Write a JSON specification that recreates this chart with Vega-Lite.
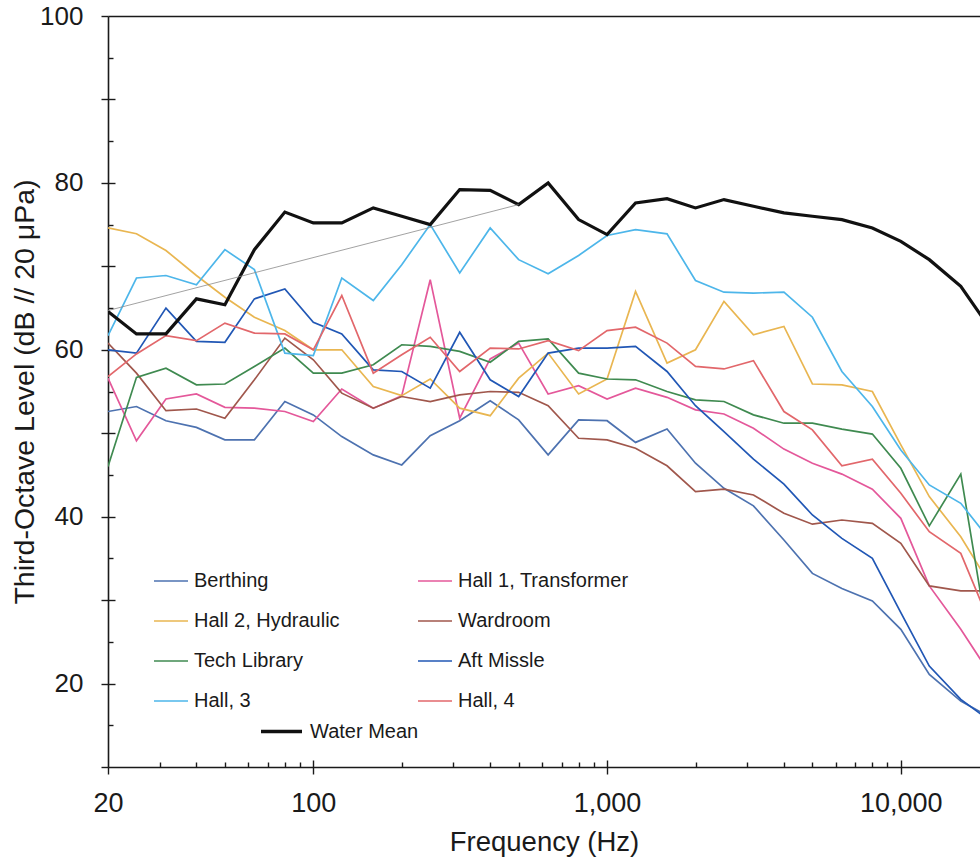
{
"$schema":"https://vega.github.io/schema/vega-lite/v6.json",
"width":872,"height":751,
"autosize":{"type":"none"},
"padding":{"left":108,"top":16,"right":0,"bottom":93},
"config":{"view":{"stroke":null},"font":"Liberation Sans","axis":{"grid":false,"domainColor":"#1a1a1a","tickColor":"#1a1a1a","labelColor":"#1a1a1a","titleColor":"#1a1a1a","titleFontWeight":"normal","domainWidth":1.6,"tickWidth":1.4}},
"datasets":{
"rooms":[
{"s":"Berthing","f":20,"v":52.6},{"s":"Berthing","f":25,"v":53.2},{"s":"Berthing","f":31.5,"v":51.5},{"s":"Berthing","f":40,"v":50.7},{"s":"Berthing","f":50,"v":49.2},{"s":"Berthing","f":63,"v":49.2},{"s":"Berthing","f":80,"v":53.8},{"s":"Berthing","f":100,"v":52.2},{"s":"Berthing","f":125,"v":49.6},{"s":"Berthing","f":160,"v":47.4},{"s":"Berthing","f":200,"v":46.2},{"s":"Berthing","f":250,"v":49.7},{"s":"Berthing","f":315,"v":51.5},{"s":"Berthing","f":400,"v":53.9},{"s":"Berthing","f":500,"v":51.6},{"s":"Berthing","f":630,"v":47.4},{"s":"Berthing","f":800,"v":51.6},{"s":"Berthing","f":1000,"v":51.5},{"s":"Berthing","f":1250,"v":48.9},{"s":"Berthing","f":1600,"v":50.5},{"s":"Berthing","f":2000,"v":46.4},{"s":"Berthing","f":2500,"v":43.4},{"s":"Berthing","f":3150,"v":41.3},{"s":"Berthing","f":4000,"v":37.2},{"s":"Berthing","f":5000,"v":33.2},{"s":"Berthing","f":6300,"v":31.4},{"s":"Berthing","f":8000,"v":29.9},{"s":"Berthing","f":10000,"v":26.5},{"s":"Berthing","f":12500,"v":21.1},{"s":"Berthing","f":16000,"v":17.9},{"s":"Berthing","f":20000,"v":16.0},
{"s":"Hall 1, Transformer","f":20,"v":56.6},{"s":"Hall 1, Transformer","f":25,"v":49.1},{"s":"Hall 1, Transformer","f":31.5,"v":54.1},{"s":"Hall 1, Transformer","f":40,"v":54.7},{"s":"Hall 1, Transformer","f":50,"v":53.1},{"s":"Hall 1, Transformer","f":63,"v":53.0},{"s":"Hall 1, Transformer","f":80,"v":52.6},{"s":"Hall 1, Transformer","f":100,"v":51.4},{"s":"Hall 1, Transformer","f":125,"v":55.3},{"s":"Hall 1, Transformer","f":160,"v":53.0},{"s":"Hall 1, Transformer","f":200,"v":54.5},{"s":"Hall 1, Transformer","f":250,"v":68.4},{"s":"Hall 1, Transformer","f":315,"v":51.8},{"s":"Hall 1, Transformer","f":400,"v":58.9},{"s":"Hall 1, Transformer","f":500,"v":60.8},{"s":"Hall 1, Transformer","f":630,"v":54.7},{"s":"Hall 1, Transformer","f":800,"v":55.7},{"s":"Hall 1, Transformer","f":1000,"v":54.1},{"s":"Hall 1, Transformer","f":1250,"v":55.4},{"s":"Hall 1, Transformer","f":1600,"v":54.3},{"s":"Hall 1, Transformer","f":2000,"v":52.8},{"s":"Hall 1, Transformer","f":2500,"v":52.3},{"s":"Hall 1, Transformer","f":3150,"v":50.6},{"s":"Hall 1, Transformer","f":4000,"v":48.1},{"s":"Hall 1, Transformer","f":5000,"v":46.4},{"s":"Hall 1, Transformer","f":6300,"v":45.1},{"s":"Hall 1, Transformer","f":8000,"v":43.3},{"s":"Hall 1, Transformer","f":10000,"v":39.8},{"s":"Hall 1, Transformer","f":12500,"v":31.7},{"s":"Hall 1, Transformer","f":16000,"v":26.5},{"s":"Hall 1, Transformer","f":20000,"v":21.3},
{"s":"Hall 2, Hydraulic","f":20,"v":74.6},{"s":"Hall 2, Hydraulic","f":25,"v":73.9},{"s":"Hall 2, Hydraulic","f":31.5,"v":71.9},{"s":"Hall 2, Hydraulic","f":40,"v":68.9},{"s":"Hall 2, Hydraulic","f":50,"v":66.3},{"s":"Hall 2, Hydraulic","f":63,"v":63.9},{"s":"Hall 2, Hydraulic","f":80,"v":62.3},{"s":"Hall 2, Hydraulic","f":100,"v":60.0},{"s":"Hall 2, Hydraulic","f":125,"v":60.0},{"s":"Hall 2, Hydraulic","f":160,"v":55.6},{"s":"Hall 2, Hydraulic","f":200,"v":54.5},{"s":"Hall 2, Hydraulic","f":250,"v":56.5},{"s":"Hall 2, Hydraulic","f":315,"v":53.0},{"s":"Hall 2, Hydraulic","f":400,"v":52.1},{"s":"Hall 2, Hydraulic","f":500,"v":56.6},{"s":"Hall 2, Hydraulic","f":630,"v":59.6},{"s":"Hall 2, Hydraulic","f":800,"v":54.7},{"s":"Hall 2, Hydraulic","f":1000,"v":56.5},{"s":"Hall 2, Hydraulic","f":1250,"v":67.0},{"s":"Hall 2, Hydraulic","f":1600,"v":58.4},{"s":"Hall 2, Hydraulic","f":2000,"v":60.0},{"s":"Hall 2, Hydraulic","f":2500,"v":65.8},{"s":"Hall 2, Hydraulic","f":3150,"v":61.8},{"s":"Hall 2, Hydraulic","f":4000,"v":62.8},{"s":"Hall 2, Hydraulic","f":5000,"v":55.9},{"s":"Hall 2, Hydraulic","f":6300,"v":55.8},{"s":"Hall 2, Hydraulic","f":8000,"v":55.0},{"s":"Hall 2, Hydraulic","f":10000,"v":48.6},{"s":"Hall 2, Hydraulic","f":12500,"v":42.4},{"s":"Hall 2, Hydraulic","f":16000,"v":37.6},{"s":"Hall 2, Hydraulic","f":20000,"v":32.0},
{"s":"Wardroom","f":20,"v":60.8},{"s":"Wardroom","f":25,"v":57.2},{"s":"Wardroom","f":31.5,"v":52.7},{"s":"Wardroom","f":40,"v":52.9},{"s":"Wardroom","f":50,"v":51.8},{"s":"Wardroom","f":63,"v":56.4},{"s":"Wardroom","f":80,"v":61.4},{"s":"Wardroom","f":100,"v":58.8},{"s":"Wardroom","f":125,"v":54.8},{"s":"Wardroom","f":160,"v":53.0},{"s":"Wardroom","f":200,"v":54.4},{"s":"Wardroom","f":250,"v":53.8},{"s":"Wardroom","f":315,"v":54.6},{"s":"Wardroom","f":400,"v":55.0},{"s":"Wardroom","f":500,"v":54.9},{"s":"Wardroom","f":630,"v":53.3},{"s":"Wardroom","f":800,"v":49.4},{"s":"Wardroom","f":1000,"v":49.2},{"s":"Wardroom","f":1250,"v":48.2},{"s":"Wardroom","f":1600,"v":46.1},{"s":"Wardroom","f":2000,"v":43.0},{"s":"Wardroom","f":2500,"v":43.3},{"s":"Wardroom","f":3150,"v":42.6},{"s":"Wardroom","f":4000,"v":40.4},{"s":"Wardroom","f":5000,"v":39.1},{"s":"Wardroom","f":6300,"v":39.6},{"s":"Wardroom","f":8000,"v":39.2},{"s":"Wardroom","f":10000,"v":36.8},{"s":"Wardroom","f":12500,"v":31.7},{"s":"Wardroom","f":16000,"v":31.1},{"s":"Wardroom","f":20000,"v":31.1},
{"s":"Tech Library","f":20,"v":46.0},{"s":"Tech Library","f":25,"v":56.7},{"s":"Tech Library","f":31.5,"v":57.8},{"s":"Tech Library","f":40,"v":55.8},{"s":"Tech Library","f":50,"v":55.9},{"s":"Tech Library","f":63,"v":58.0},{"s":"Tech Library","f":80,"v":60.2},{"s":"Tech Library","f":100,"v":57.2},{"s":"Tech Library","f":125,"v":57.2},{"s":"Tech Library","f":160,"v":58.2},{"s":"Tech Library","f":200,"v":60.6},{"s":"Tech Library","f":250,"v":60.4},{"s":"Tech Library","f":315,"v":59.8},{"s":"Tech Library","f":400,"v":58.5},{"s":"Tech Library","f":500,"v":61.0},{"s":"Tech Library","f":630,"v":61.3},{"s":"Tech Library","f":800,"v":57.2},{"s":"Tech Library","f":1000,"v":56.5},{"s":"Tech Library","f":1250,"v":56.4},{"s":"Tech Library","f":1600,"v":55.0},{"s":"Tech Library","f":2000,"v":54.0},{"s":"Tech Library","f":2500,"v":53.8},{"s":"Tech Library","f":3150,"v":52.2},{"s":"Tech Library","f":4000,"v":51.2},{"s":"Tech Library","f":5000,"v":51.2},{"s":"Tech Library","f":6300,"v":50.5},{"s":"Tech Library","f":8000,"v":49.9},{"s":"Tech Library","f":10000,"v":45.8},{"s":"Tech Library","f":12500,"v":38.9},{"s":"Tech Library","f":16000,"v":45.1},{"s":"Tech Library","f":20000,"v":24.5},
{"s":"Aft Missle","f":20,"v":60.0},{"s":"Aft Missle","f":25,"v":59.6},{"s":"Aft Missle","f":31.5,"v":65.0},{"s":"Aft Missle","f":40,"v":61.0},{"s":"Aft Missle","f":50,"v":60.9},{"s":"Aft Missle","f":63,"v":66.1},{"s":"Aft Missle","f":80,"v":67.3},{"s":"Aft Missle","f":100,"v":63.3},{"s":"Aft Missle","f":125,"v":61.9},{"s":"Aft Missle","f":160,"v":57.6},{"s":"Aft Missle","f":200,"v":57.4},{"s":"Aft Missle","f":250,"v":55.4},{"s":"Aft Missle","f":315,"v":62.1},{"s":"Aft Missle","f":400,"v":56.4},{"s":"Aft Missle","f":500,"v":54.4},{"s":"Aft Missle","f":630,"v":59.6},{"s":"Aft Missle","f":800,"v":60.2},{"s":"Aft Missle","f":1000,"v":60.2},{"s":"Aft Missle","f":1250,"v":60.4},{"s":"Aft Missle","f":1600,"v":57.4},{"s":"Aft Missle","f":2000,"v":53.3},{"s":"Aft Missle","f":2500,"v":50.2},{"s":"Aft Missle","f":3150,"v":46.9},{"s":"Aft Missle","f":4000,"v":43.9},{"s":"Aft Missle","f":5000,"v":40.2},{"s":"Aft Missle","f":6300,"v":37.4},{"s":"Aft Missle","f":8000,"v":35.0},{"s":"Aft Missle","f":10000,"v":28.5},{"s":"Aft Missle","f":12500,"v":22.1},{"s":"Aft Missle","f":16000,"v":18.1},{"s":"Aft Missle","f":20000,"v":15.6},
{"s":"Hall, 3","f":20,"v":61.7},{"s":"Hall, 3","f":25,"v":68.6},{"s":"Hall, 3","f":31.5,"v":68.9},{"s":"Hall, 3","f":40,"v":67.8},{"s":"Hall, 3","f":50,"v":72.0},{"s":"Hall, 3","f":63,"v":69.6},{"s":"Hall, 3","f":80,"v":59.6},{"s":"Hall, 3","f":100,"v":59.3},{"s":"Hall, 3","f":125,"v":68.6},{"s":"Hall, 3","f":160,"v":65.9},{"s":"Hall, 3","f":200,"v":70.2},{"s":"Hall, 3","f":250,"v":75.0},{"s":"Hall, 3","f":315,"v":69.2},{"s":"Hall, 3","f":400,"v":74.6},{"s":"Hall, 3","f":500,"v":70.8},{"s":"Hall, 3","f":630,"v":69.1},{"s":"Hall, 3","f":800,"v":71.3},{"s":"Hall, 3","f":1000,"v":73.7},{"s":"Hall, 3","f":1250,"v":74.4},{"s":"Hall, 3","f":1600,"v":73.9},{"s":"Hall, 3","f":2000,"v":68.3},{"s":"Hall, 3","f":2500,"v":66.9},{"s":"Hall, 3","f":3150,"v":66.8},{"s":"Hall, 3","f":4000,"v":66.9},{"s":"Hall, 3","f":5000,"v":63.9},{"s":"Hall, 3","f":6300,"v":57.4},{"s":"Hall, 3","f":8000,"v":53.2},{"s":"Hall, 3","f":10000,"v":48.0},{"s":"Hall, 3","f":12500,"v":43.8},{"s":"Hall, 3","f":16000,"v":41.6},{"s":"Hall, 3","f":20000,"v":37.3},
{"s":"Hall, 4","f":20,"v":56.8},{"s":"Hall, 4","f":25,"v":59.5},{"s":"Hall, 4","f":31.5,"v":61.7},{"s":"Hall, 4","f":40,"v":61.1},{"s":"Hall, 4","f":50,"v":63.2},{"s":"Hall, 4","f":63,"v":62.0},{"s":"Hall, 4","f":80,"v":61.9},{"s":"Hall, 4","f":100,"v":60.0},{"s":"Hall, 4","f":125,"v":66.5},{"s":"Hall, 4","f":160,"v":57.2},{"s":"Hall, 4","f":200,"v":59.4},{"s":"Hall, 4","f":250,"v":61.5},{"s":"Hall, 4","f":315,"v":57.4},{"s":"Hall, 4","f":400,"v":60.2},{"s":"Hall, 4","f":500,"v":60.1},{"s":"Hall, 4","f":630,"v":61.1},{"s":"Hall, 4","f":800,"v":59.9},{"s":"Hall, 4","f":1000,"v":62.3},{"s":"Hall, 4","f":1250,"v":62.7},{"s":"Hall, 4","f":1600,"v":60.8},{"s":"Hall, 4","f":2000,"v":58.0},{"s":"Hall, 4","f":2500,"v":57.7},{"s":"Hall, 4","f":3150,"v":58.7},{"s":"Hall, 4","f":4000,"v":52.6},{"s":"Hall, 4","f":5000,"v":50.4},{"s":"Hall, 4","f":6300,"v":46.1},{"s":"Hall, 4","f":8000,"v":46.9},{"s":"Hall, 4","f":10000,"v":42.8},{"s":"Hall, 4","f":12500,"v":38.2},{"s":"Hall, 4","f":16000,"v":35.6},{"s":"Hall, 4","f":20000,"v":27.4}
],
"mean":[
{"s":"Water Mean","f":20,"v":64.6},{"s":"Water Mean","f":25,"v":61.9},{"s":"Water Mean","f":31.5,"v":61.9},{"s":"Water Mean","f":40,"v":66.1},{"s":"Water Mean","f":50,"v":65.4},{"s":"Water Mean","f":63,"v":72.0},{"s":"Water Mean","f":80,"v":76.5},{"s":"Water Mean","f":100,"v":75.2},{"s":"Water Mean","f":125,"v":75.2},{"s":"Water Mean","f":160,"v":77.0},{"s":"Water Mean","f":200,"v":76.0},{"s":"Water Mean","f":250,"v":75.0},{"s":"Water Mean","f":315,"v":79.2},{"s":"Water Mean","f":400,"v":79.1},{"s":"Water Mean","f":500,"v":77.4},{"s":"Water Mean","f":630,"v":80.0},{"s":"Water Mean","f":800,"v":75.6},{"s":"Water Mean","f":1000,"v":73.8},{"s":"Water Mean","f":1250,"v":77.6},{"s":"Water Mean","f":1600,"v":78.1},{"s":"Water Mean","f":2000,"v":77.0},{"s":"Water Mean","f":2500,"v":78.0},{"s":"Water Mean","f":3150,"v":77.2},{"s":"Water Mean","f":4000,"v":76.4},{"s":"Water Mean","f":5000,"v":76.0},{"s":"Water Mean","f":6300,"v":75.6},{"s":"Water Mean","f":8000,"v":74.6},{"s":"Water Mean","f":10000,"v":73.0},{"s":"Water Mean","f":12500,"v":70.8},{"s":"Water Mean","f":16000,"v":67.6},{"s":"Water Mean","f":20000,"v":62.7}
],
"trend":[{"f":20,"v":64.7},{"f":500,"v":77.4}]
},
"resolve":{"axis":{"x":"independent","y":"independent"}},
"layer":[
{"data":{"name":"rooms"},
 "mark":{"type":"line","clip":true,"strokeWidth":1.7},
 "encoding":{
  "x":{"field":"f","type":"quantitative","scale":{"type":"log","domain":[20,18600],"nice":false},
   "axis":{"orient":"bottom","values":[20,100,1000,10000],"format":",","tickSize":7,"labelFontSize":27,"labelPadding":16,"labelFlush":false,"labelOverlap":false,"title":"Frequency (Hz)","titleFontSize":27.5,"titlePadding":12}},
  "y":{"field":"v","type":"quantitative","scale":{"domain":[10,100],"nice":false,"zero":false},
   "axis":{"orient":"left","values":[10,20,30,40,50,60,70,80,90,100],"labelExpr":"datum.value % 20 == 0 ? datum.label : ''","tickSize":7,"labelFontSize":26,"labelPadding":18,"title":"Third-Octave Level (dB // 20 μPa)","titleFontSize":28.5,"titlePadding":0}},
  "color":{"field":"s","type":"nominal",
   "scale":{"domain":["Berthing","Hall 2, Hydraulic","Tech Library","Hall, 3","Hall 1, Transformer","Wardroom","Aft Missle","Hall, 4"],
            "range":["#4d72b0","#e9b651","#3f8a50","#4db6ea","#e4589a","#a0574c","#2157b5","#e2676b"]},
   "legend":{"orient":"none","legendX":45,"legendY":547,"columns":2,"title":null,"symbolType":"stroke","symbolSize":1156,"symbolStrokeWidth":1.5,"labelFontSize":20,"labelOffset":5,"labelColor":"#1a1a1a","rowPadding":12,"columnPadding":75,"labelLimit":400}}
 }},
{"data":{"name":"mean"},
 "mark":{"type":"line","clip":true,"strokeWidth":3.2},
 "encoding":{
  "x":{"field":"f","type":"quantitative","scale":{"type":"log","domain":[20,18600],"nice":false},
   "axis":{"orient":"bottom","values":[100,1000,10000],"tickSize":-7,"labels":false,"domain":false,"title":null}},
  "y":{"field":"v","type":"quantitative","scale":{"domain":[10,100],"nice":false,"zero":false},
   "axis":{"orient":"left","values":[20,30,40,50,60,70,80,90],"tickSize":-7,"labels":false,"domain":false,"title":null}},
  "stroke":{"field":"s","type":"nominal","scale":{"domain":["Water Mean"],"range":["#111111"]},
   "legend":{"orient":"none","legendX":151,"legendY":693,"title":null,"symbolType":"stroke","symbolSize":1681,"symbolStrokeWidth":3.5,"labelFontSize":20,"labelOffset":6,"labelColor":"#1a1a1a"}}
 }},
{"data":{"name":"trend"},
 "mark":{"type":"line","clip":true,"strokeWidth":0.8,"color":"#8a8a8a"},
 "encoding":{
  "x":{"field":"f","type":"quantitative","scale":{"type":"log","domain":[20,18600],"nice":false},
   "axis":{"orient":"bottom","values":[30,40,50,60,70,80,90,200,300,400,500,600,700,800,900,2000,3000,4000,5000,6000,7000,8000,9000],"tickSize":-5,"labels":false,"domain":false,"title":null}},
  "y":{"field":"v","type":"quantitative","scale":{"domain":[10,100],"nice":false,"zero":false},
   "axis":{"orient":"left","values":[15,25,35,45,55,65,75,85,95],"tickSize":-5,"labels":false,"domain":false,"title":null}}
 }},
{"data":{"name":"trend"},
 "mark":{"type":"line","clip":true,"opacity":0},
 "encoding":{
  "x":{"field":"f","type":"quantitative","scale":{"type":"log","domain":[20,18600],"nice":false},
   "axis":{"orient":"top","ticks":false,"labels":false,"domain":true,"title":null}},
  "y":{"field":"v","type":"quantitative","scale":{"domain":[10,100],"nice":false,"zero":false},"axis":null}
 }}
]
}
